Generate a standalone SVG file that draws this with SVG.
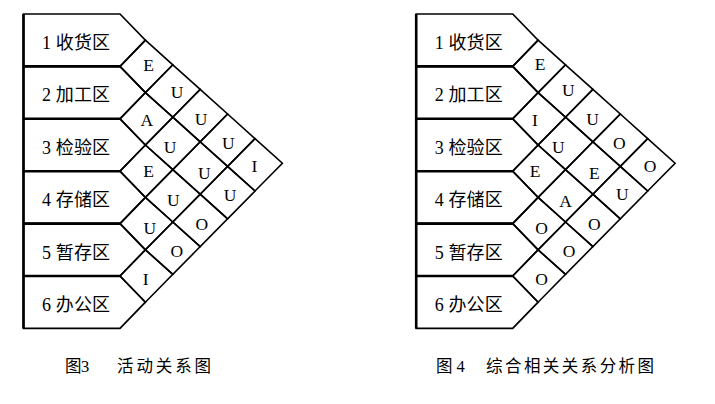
<svg xmlns="http://www.w3.org/2000/svg" width="715" height="404" viewBox="0 0 715 404">
<style>
.row{fill:#fff;stroke:#000;stroke-width:1.7;stroke-linejoin:miter}
.cell{fill:none;stroke:#000;stroke-width:1.6;stroke-linejoin:miter}
.sep{fill:none;stroke:#000;stroke-width:2.6}
.lbl{font-family:"Liberation Serif","Noto Sans CJK SC",serif;font-size:18px;fill:#000}
.rel{font-family:"Liberation Serif",serif;font-size:17.5px;text-anchor:middle;fill:#000}
.cap{font-family:"Liberation Serif","Noto Sans CJK SC",serif;font-size:16.5px;fill:#000}
</style>
<rect width="715" height="404" fill="#fff"/>

<g id="chart3">
  <g id="c3-row1"><polygon class="row" points="23.5,14 120,14 145.4,40.2 120,66.4 23.5,66.4"/><text class="lbl" x="42" y="49" textLength="68" lengthAdjust="spacing">1 收货区</text></g>
  <g id="c3-row2"><polygon class="row" points="23.5,66.4 120,66.4 145.4,92.6 120,118.8 23.5,118.8"/><text class="lbl" x="42" y="101.4" textLength="68" lengthAdjust="spacing">2 加工区</text></g>
  <g id="c3-row3"><polygon class="row" points="23.5,118.8 120,118.8 145.4,145 120,171.2 23.5,171.2"/><text class="lbl" x="42" y="153.8" textLength="68" lengthAdjust="spacing">3 检验区</text></g>
  <g id="c3-row4"><polygon class="row" points="23.5,171.2 120,171.2 145.4,197.4 120,223.6 23.5,223.6"/><text class="lbl" x="42" y="206.2" textLength="68" lengthAdjust="spacing">4 存储区</text></g>
  <g id="c3-row5"><polygon class="row" points="23.5,223.6 120,223.6 145.4,249.8 120,276 23.5,276"/><text class="lbl" x="42" y="258.6" textLength="68" lengthAdjust="spacing">5 暂存区</text></g>
  <g id="c3-row6"><polygon class="row" points="23.5,276 120,276 145.4,302.2 120,328.4 23.5,328.4"/><text class="lbl" x="42" y="311" textLength="68" lengthAdjust="spacing">6 办公区</text></g>
  <g id="c3-frame"><path class="sep" d="M23.5,14V328.4M23.5,66.4H120M23.5,118.8H120M23.5,171.2H120M23.5,223.6H120M23.5,276H120"/></g>
  <g id="c3-cells">
    <g id="c3-1-2"><polygon class="cell" points="145.4,40.2 172.8,64.8 145.4,92.6 120,66.4"/><text class="rel" x="148.7" y="71">E</text></g>
    <g id="c3-2-3"><polygon class="cell" points="145.4,92.6 172.8,117.2 145.4,145 120,118.8"/><text class="rel" x="146.7" y="126">A</text></g>
    <g id="c3-3-4"><polygon class="cell" points="145.4,145 172.8,169.6 145.4,197.4 120,171.2"/><text class="rel" x="148.7" y="176.7">E</text></g>
    <g id="c3-4-5"><polygon class="cell" points="145.4,197.4 172.8,222 145.4,249.8 120,223.6"/><text class="rel" x="149.7" y="234.3">U</text></g>
    <g id="c3-5-6"><polygon class="cell" points="145.4,249.8 172.8,274.4 145.4,302.2 120,276"/><text class="rel" x="145.7" y="285.3">I</text></g>
    <g id="c3-1-3"><polygon class="cell" points="172.8,64.8 200.2,89.4 172.8,117.2 145.4,92.6"/><text class="rel" x="177" y="97.7">U</text></g>
    <g id="c3-2-4"><polygon class="cell" points="172.8,117.2 200.2,141.8 172.8,169.6 145.4,145"/><text class="rel" x="170" y="152.7">U</text></g>
    <g id="c3-3-5"><polygon class="cell" points="172.8,169.6 200.2,194.2 172.8,222 145.4,197.4"/><text class="rel" x="173.3" y="206">U</text></g>
    <g id="c3-4-6"><polygon class="cell" points="172.8,222 200.2,246.6 172.8,274.4 145.4,249.8"/><text class="rel" x="176.7" y="256.7">O</text></g>
    <g id="c3-1-4"><polygon class="cell" points="200.2,89.4 227.6,114 200.2,141.8 172.8,117.2"/><text class="rel" x="201" y="125">U</text></g>
    <g id="c3-2-5"><polygon class="cell" points="200.2,141.8 227.6,166.4 200.2,194.2 172.8,169.6"/><text class="rel" x="204.3" y="179.3">U</text></g>
    <g id="c3-3-6"><polygon class="cell" points="200.2,194.2 227.6,218.8 200.2,246.6 172.8,222"/><text class="rel" x="201.7" y="230">O</text></g>
    <g id="c3-1-5"><polygon class="cell" points="227.6,114 255,138.6 227.6,166.4 200.2,141.8"/><text class="rel" x="228.3" y="148.7">U</text></g>
    <g id="c3-2-6"><polygon class="cell" points="227.6,166.4 255,191 227.6,218.8 200.2,194.2"/><text class="rel" x="230" y="201">U</text></g>
    <g id="c3-1-6"><polygon class="cell" points="255,138.6 282.4,163.2 255,191 227.6,166.4"/><text class="rel" x="254.3" y="172">I</text></g>
  </g>
  <g id="c3-caption"><text class="cap" x="65" y="371.5">图<tspan x="81">3</tspan></text><text class="cap" x="117" y="371.5" textLength="94" lengthAdjust="spacing">活动关系图</text></g>
</g>

<g id="chart4" transform="translate(392.7,0)">
  <g id="c4-row1"><polygon class="row" points="23.5,14 120,14 145.4,40.2 120,66.4 23.5,66.4"/><text class="lbl" x="42" y="49" textLength="68" lengthAdjust="spacing">1 收货区</text></g>
  <g id="c4-row2"><polygon class="row" points="23.5,66.4 120,66.4 145.4,92.6 120,118.8 23.5,118.8"/><text class="lbl" x="42" y="101.4" textLength="68" lengthAdjust="spacing">2 加工区</text></g>
  <g id="c4-row3"><polygon class="row" points="23.5,118.8 120,118.8 145.4,145 120,171.2 23.5,171.2"/><text class="lbl" x="42" y="153.8" textLength="68" lengthAdjust="spacing">3 检验区</text></g>
  <g id="c4-row4"><polygon class="row" points="23.5,171.2 120,171.2 145.4,197.4 120,223.6 23.5,223.6"/><text class="lbl" x="42" y="206.2" textLength="68" lengthAdjust="spacing">4 存储区</text></g>
  <g id="c4-row5"><polygon class="row" points="23.5,223.6 120,223.6 145.4,249.8 120,276 23.5,276"/><text class="lbl" x="42" y="258.6" textLength="68" lengthAdjust="spacing">5 暂存区</text></g>
  <g id="c4-row6"><polygon class="row" points="23.5,276 120,276 145.4,302.2 120,328.4 23.5,328.4"/><text class="lbl" x="42" y="311" textLength="68" lengthAdjust="spacing">6 办公区</text></g>
  <g id="c4-frame"><path class="sep" d="M23.5,14V328.4M23.5,66.4H120M23.5,118.8H120M23.5,171.2H120M23.5,223.6H120M23.5,276H120"/></g>
  <g id="c4-cells">
    <g id="c4-1-2"><polygon class="cell" points="145.4,40.2 172.8,64.8 145.4,92.6 120,66.4"/><text class="rel" x="147.3" y="70.3">E</text></g>
    <g id="c4-2-3"><polygon class="cell" points="145.4,92.6 172.8,117.2 145.4,145 120,118.8"/><text class="rel" x="142.3" y="126">I</text></g>
    <g id="c4-3-4"><polygon class="cell" points="145.4,145 172.8,169.6 145.4,197.4 120,171.2"/><text class="rel" x="142.3" y="176.7">E</text></g>
    <g id="c4-4-5"><polygon class="cell" points="145.4,197.4 172.8,222 145.4,249.8 120,223.6"/><text class="rel" x="149" y="234.3">O</text></g>
    <g id="c4-5-6"><polygon class="cell" points="145.4,249.8 172.8,274.4 145.4,302.2 120,276"/><text class="rel" x="149" y="285">O</text></g>
    <g id="c4-1-3"><polygon class="cell" points="172.8,64.8 200.2,89.4 172.8,117.2 145.4,92.6"/><text class="rel" x="175.6" y="96">U</text></g>
    <g id="c4-2-4"><polygon class="cell" points="172.8,117.2 200.2,141.8 172.8,169.6 145.4,145"/><text class="rel" x="165.6" y="152.7">U</text></g>
    <g id="c4-3-5"><polygon class="cell" points="172.8,169.6 200.2,194.2 172.8,222 145.4,197.4"/><text class="rel" x="173" y="206.7">A</text></g>
    <g id="c4-4-6"><polygon class="cell" points="172.8,222 200.2,246.6 172.8,274.4 145.4,249.8"/><text class="rel" x="176.3" y="256.7">O</text></g>
    <g id="c4-1-4"><polygon class="cell" points="200.2,89.4 227.6,114 200.2,141.8 172.8,117.2"/><text class="rel" x="200" y="125">U</text></g>
    <g id="c4-2-5"><polygon class="cell" points="200.2,141.8 227.6,166.4 200.2,194.2 172.8,169.6"/><text class="rel" x="201.6" y="179.3">E</text></g>
    <g id="c4-3-6"><polygon class="cell" points="200.2,194.2 227.6,218.8 200.2,246.6 172.8,222"/><text class="rel" x="201.6" y="230">O</text></g>
    <g id="c4-1-5"><polygon class="cell" points="227.6,114 255,138.6 227.6,166.4 200.2,141.8"/><text class="rel" x="226.6" y="148.7">O</text></g>
    <g id="c4-2-6"><polygon class="cell" points="227.6,166.4 255,191 227.6,218.8 200.2,194.2"/><text class="rel" x="229.6" y="200">U</text></g>
    <g id="c4-1-6"><polygon class="cell" points="255,138.6 282.4,163.2 255,191 227.6,166.4"/><text class="rel" x="257.3" y="172">O</text></g>
  </g>
</g>
<g id="c4-caption"><text class="cap" x="436" y="371.5">图<tspan x="456.5">4</tspan></text><text class="cap" x="486" y="371.5" textLength="168" lengthAdjust="spacing">综合相关关系分析图</text></g>
</svg>
